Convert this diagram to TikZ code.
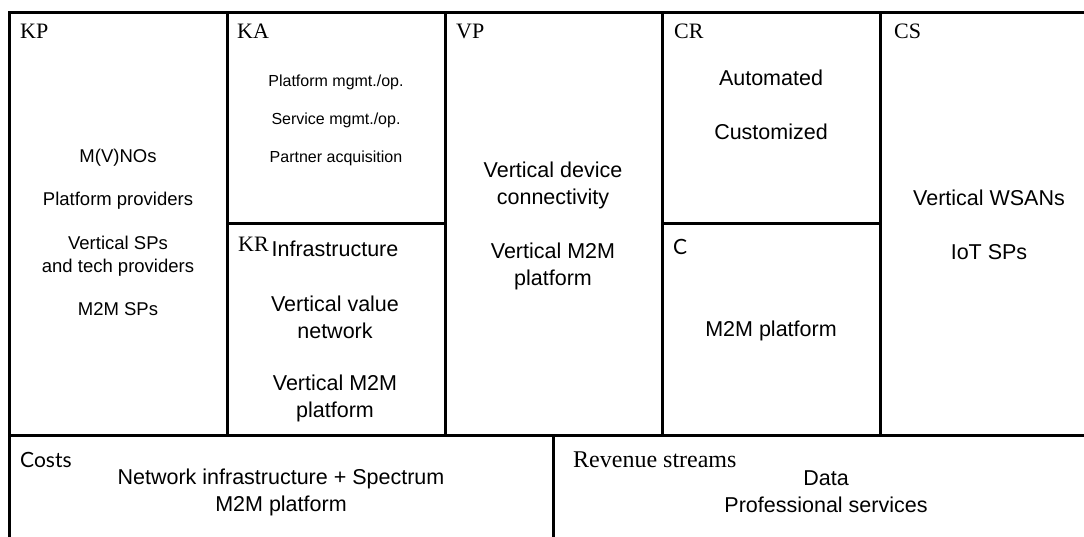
\documentclass[tikz,border=0pt]{standalone}
\usepackage{fontspec}
\setmainfont{Liberation Serif}
\newfontfamily\bodyfont{Liberation Sans}
\newfontfamily\lbsans{Lato}
\begin{document}
\begin{tikzpicture}[x=1pt,y=-1pt,
  gridline/.style={line width=3pt, line cap=rect},
  lbl/.style={anchor=north west, inner sep=0pt, font=\fontsize{22}{24}\selectfont},
  wlbl/.style={anchor=north west, inner sep=0pt, font=\fontsize{24}{26}\selectfont},
  slbl/.style={anchor=north west, inner sep=0pt, font=\lbsans\fontsize{21}{24}\selectfont},
  body/.style={align=center, inner sep=0pt, font=\bodyfont\fontsize{21.5}{27}\selectfont},
  kpbody/.style={align=center, inner sep=0pt, font=\bodyfont\fontsize{18.5}{23}\selectfont},
  small/.style={align=center, inner sep=0pt, font=\bodyfont\fontsize{16}{38}\selectfont}]
\useasboundingbox (0,0) rectangle (1084,537);
\clip (0,0) rectangle (1084,537);
% grid
\draw[gridline] (9,545) -- (9,13) -- (1095,13);
\draw[gridline] (227,13) -- (227,435);
\draw[gridline] (445,13) -- (445,435);
\draw[gridline] (662,13) -- (662,435);
\draw[gridline] (880,13) -- (880,435);
\draw[gridline] (227,224) -- (445,224);
\draw[gridline] (662,224) -- (880,224);
\draw[gridline] (9,435) -- (1095,435);
\draw[gridline] (553,435) -- (553,545);
% labels
\node[lbl] (kp) at (20,24) {KP};
\node[lbl] (ka) at (237,24) {KA};
\node[lbl] (vp) at (456,24) {VP};
\node[lbl] (cr) at (674,24) {CR};
\node[lbl] (cs) at (894,24) {CS};
\node[lbl] (kr) at (238,237) {KR};
\node[slbl] (c) at (673,239) {C};
\node[slbl] (costs) at (20,452) {Costs};
\node[wlbl] (rev) at (573,452) {Revenue streams};
% KP
\node[kpbody] (kp1) at (118,158) {M(V)NOs};
\node[kpbody] (kp2) at (118,201) {Platform providers};
\node[kpbody] (kp3) at (118,256) {Vertical SPs\\and tech providers};
\node[kpbody] (kp4) at (118,309) {M2M SPs};
% KA
\node[small] (ka1) at (336,82) {Platform mgmt./op.};
\node[small] (ka2) at (336,120) {Service mgmt./op.};
\node[small] (ka3) at (336,158) {Partner acquisition};
% KR
\node[body] (kr1) at (335,249) {Infrastructure};
\node[body] (kr2) at (335,317) {Vertical value\\network};
\node[body] (kr3) at (335,398) {Vertical M2M\\platform};
% VP
\node[body] (vp1) at (553,185) {Vertical device\\connectivity};
\node[body] (vp2) at (553,266) {Vertical M2M\\platform};
% CR
\node[body] (cr1) at (771,78) {Automated};
\node[body] (cr2) at (771,132) {Customized};
% C
\node[body] (c1) at (771,331) {M2M platform};
% CS
\node[body] (cs1) at (989,198) {Vertical WSANs};
\node[body] (cs2) at (989,252) {IoT SPs};
% Costs
\node[body] (co1) at (281,492) {Network infrastructure + Spectrum\\M2M platform};
% Revenue
\node[body] (rv1) at (826,492) {Data\\Professional services};
\end{tikzpicture}
\end{document}
